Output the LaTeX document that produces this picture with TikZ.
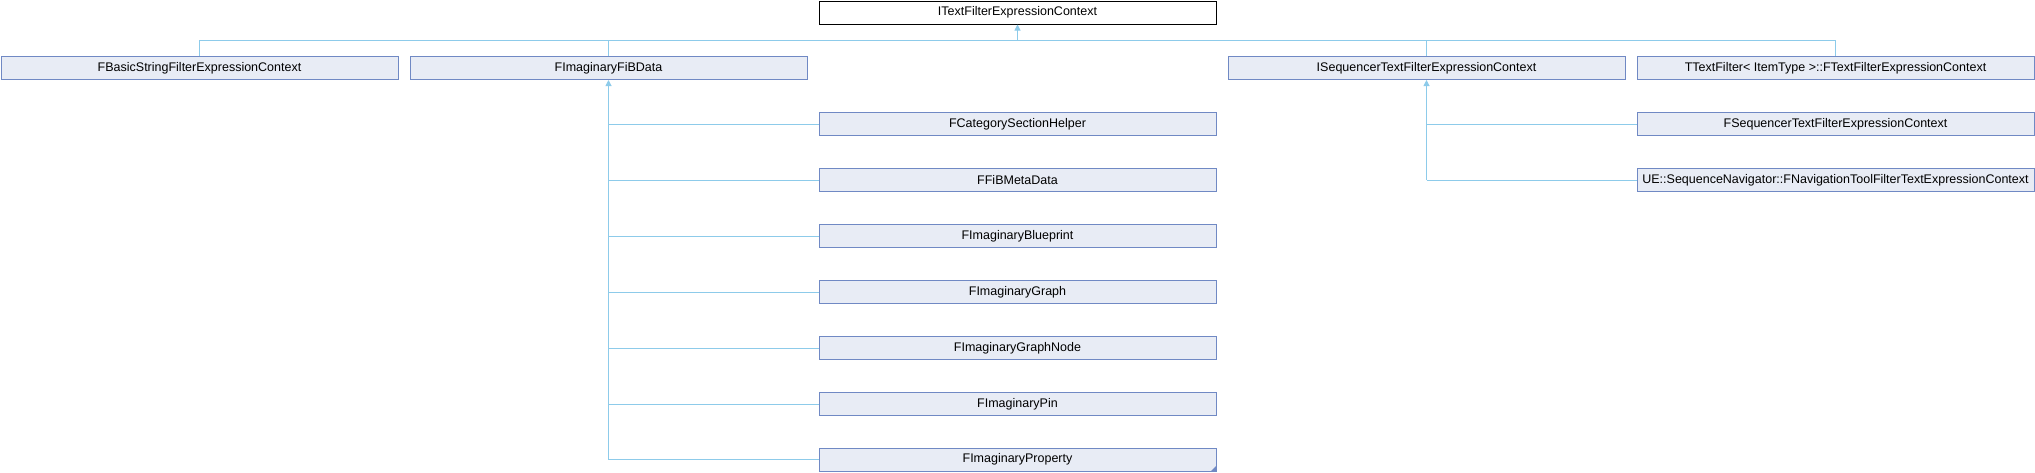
\documentclass[tikz,border=0pt]{standalone}
\usepackage{fontspec}
\setmainfont{Liberation Sans}
\usetikzlibrary{arrows.meta}
\definecolor{boxfill}{HTML}{E8ECF5}
\definecolor{boxline}{HTML}{7089C4}
\definecolor{conncol}{HTML}{8DCBEA}
\begin{document}
\begin{tikzpicture}[x=1pt,y=-1pt,
  cls/.style={draw=boxline,fill=boxfill,line width=1pt,minimum width=397pt,minimum height=23pt,inner sep=0pt,font=\fontsize{12.5}{14}\selectfont},
  topcls/.style={cls,draw=black,fill=white},
  conn/.style={draw=conncol,line width=1pt},
  arr/.style={conn,-{Triangle[length=6pt,width=6pt]}}]
\useasboundingbox (0,0) rectangle (2035,472);
\node[topcls] (top) at (1017.5,12.5) {ITextFilterExpressionContext};
\node[cls] (fbasic) at (199.5,68) {FBasicStringFilterExpressionContext};
\node[cls] (fib) at (608.5,68) {FImaginaryFiBData};
\node[cls] (iseq) at (1426.5,68) {ISequencerTextFilterExpressionContext};
\node[cls] (ttext) at (1835.5,68) {TTextFilter<\ ItemType\ >::FTextFilterExpressionContext};
\node[cls] (fcat) at (1017.5,124) {FCategorySectionHelper};
\node[cls] (ffib) at (1017.5,180) {FFiBMetaData};
\node[cls] (fbp) at (1017.5,236) {FImaginaryBlueprint};
\node[cls] (fgraph) at (1017.5,292) {FImaginaryGraph};
\node[cls] (fnode) at (1017.5,348) {FImaginaryGraphNode};
\node[cls] (fpin) at (1017.5,404) {FImaginaryPin};
\node[cls] (fprop) at (1017.5,459.5) {FImaginaryProperty};
\node[cls] (fseq) at (1835.5,124) {FSequencerTextFilterExpressionContext};
\node[cls] (fnav) at (1835.5,180) {UE::SequenceNavigator::FNavigationToolFilterTextExpressionContext};
\fill[boxline] (fprop.south east) -- ++(0,-6) -- ++(-6,6) -- cycle;
\coordinate (bus) at (0,40);
% inheritance bus
\draw[conn] (fbasic.north) -- (fbasic.north |- bus) -- (ttext.north |- bus) -- (ttext.north);
\draw[conn] (fib.north) -- (fib.north |- bus);
\draw[conn] (iseq.north) -- (iseq.north |- bus);
\draw[arr] (top.south |- bus) -- (top.south);
% FImaginaryFiBData children
\draw[arr] (fib.south |- fprop.west) -- (fib.south);
\foreach \c in {fcat,ffib,fbp,fgraph,fnode,fpin,fprop}{
  \draw[conn] (fib.south |- \c.west) -- (\c.west);
}
% ISequencer children
\draw[arr] (iseq.south |- fnav.west) -- (iseq.south);
\foreach \c in {fseq,fnav}{
  \draw[conn] (iseq.south |- \c.west) -- (\c.west);
}
\end{tikzpicture}
\end{document}
